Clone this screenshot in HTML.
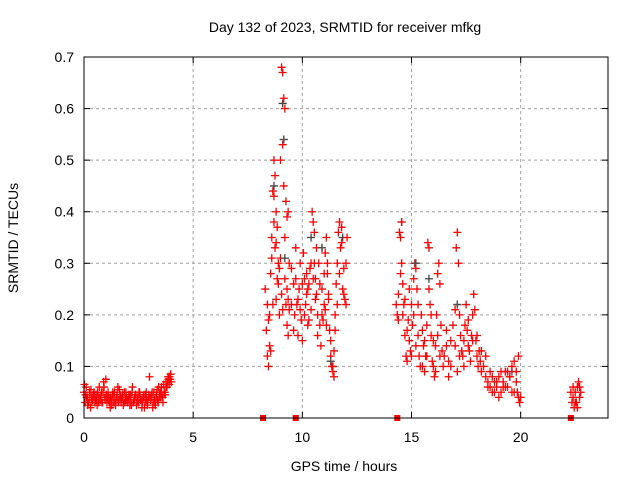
<!DOCTYPE html>
<html><head><meta charset="utf-8"><style>
body{margin:0;background:#fff;}
svg{display:block;font-family:"Liberation Sans",sans-serif;}
</style></head><body>
<svg id="chart" width="640" height="480">
<text x="345" y="32" text-anchor="middle" font-size="14">Day 132 of 2023, SRMTID for receiver mfkg</text>
<text x="344" y="471" text-anchor="middle" font-size="14">GPS time / hours</text>
<text x="18" y="238" text-anchor="middle" font-size="14" transform="rotate(-90 18 238)">SRMTID / TECUs</text>
<g id="grid"></g>
<g id="marks"></g>
<rect x="84" y="57" width="524" height="361" fill="none" stroke="#000" stroke-width="1"/>
<g id="ticks"></g>
</svg>
<script>
const xTicks=[0,5,10,15,20];
const yTicks=[0,0.1,0.2,0.3,0.4,0.5,0.6,0.7];
const yTickLabels=["0","0.1","0.2","0.3","0.4","0.5","0.6","0.7"];
const gapTimes=[8.2,9.7,14.35,22.3];
const times=[0,0.05,0.1,0.15,0.2,0.25,0.3,0.35,0.4,0.45,0.5,0.55,0.6,0.65,0.7,0.75,0.8,0.85,0.9,0.95,1,1.05,1.1,1.15,1.2,1.25,1.3,1.35,1.4,1.45,1.5,1.55,1.6,1.65,1.7,1.75,1.8,1.85,1.9,1.95,2,2.05,2.1,2.15,2.2,2.25,2.3,2.35,2.4,2.45,2.5,2.55,2.6,2.65,2.7,2.75,2.8,2.85,2.9,2.95,3,3.05,3.1,3.15,3.2,3.25,3.3,3.35,3.4,3.45,3.5,3.55,3.6,3.65,3.7,3.75,3.8,3.85,3.9,3.95,4,
0.02,0.12,0.22,0.32,0.42,0.52,0.62,0.72,0.82,0.92,1.02,1.12,1.22,1.32,1.42,1.52,1.62,1.72,1.82,1.92,2.02,2.12,2.22,2.32,2.42,2.52,2.62,2.72,2.82,2.92,3.02,3.12,3.22,3.32,3.42,3.52,3.62,3.72,3.82,3.92,
0.07,0.17,0.27,0.37,0.47,0.57,0.67,0.77,0.87,0.97,1.07,1.17,1.27,1.37,1.47,1.57,1.67,1.77,1.87,1.97,2.07,2.17,2.27,2.37,2.47,2.57,2.67,2.77,2.87,2.97,3.07,3.17,3.27,3.37,3.47,3.57,3.67,3.77,3.87,3.97,
8.3,8.35,8.4,8.45,8.5,8.55,8.6,8.65,8.7,8.75,8.8,8.85,8.9,8.95,9,9.05,9.1,9.15,9.2,9.25,9.3,9.35,8.5,8.6,8.7,8.8,8.9,9,9.1,9.15,9.2,9.25,9.3,9.35,8.55,8.65,8.75,8.85,8.95,9.05,9.1,9.2,9.3,8.4,8.45,9.4,9.35,9.4,8.7,8.8,
9.5,9.6,9.65,9.7,9.75,9.8,9.85,9.9,9.95,10,10.05,10.1,10.15,10.2,10.25,10.3,10.35,10.4,10.45,10.5,10.55,10.6,10.65,10.7,10.75,10.8,10.85,10.9,10.95,11,11.05,11.1,11.15,11.2,11.25,11.3,11.35,11.4,11.45,11.5,11.55,11.6,11.65,11.7,11.75,11.8,11.85,11.9,11.95,12,12.05,9.5,9.6,9.7,9.8,9.9,10,10.1,10.2,10.3,10.4,10.5,10.6,10.7,10.8,10.9,11,11.1,11.2,11.3,11.4,11.45,11.5,11.6,11.7,11.8,11.9,12,10.55,10.65,10.25,11.05,11.15,
14.3,14.35,14.4,14.45,14.5,14.55,14.6,14.65,14.7,14.75,14.8,14.85,14.9,14.95,15,15.05,15.1,15.15,15.2,15.25,15.3,15.35,15.4,15.45,15.5,15.55,15.6,15.65,15.7,15.75,15.8,15.85,15.9,15.95,16,16.05,16.1,16.15,16.2,16.25,16.3,16.35,16.4,16.45,14.5,14.6,14.7,14.8,14.9,15,15.1,15.2,15.3,15.5,15.6,15.7,15.8,15.9,16,16.1,16.2,16.3,14.4,14.55,
16.5,16.6,16.7,16.8,16.9,17,17.05,17.1,17.15,17.2,17.25,17.3,17.35,17.4,17.45,17.5,17.55,17.6,17.65,17.7,17.75,17.8,17.85,17.9,17.95,18,18.05,18.1,18.15,18.2,18.3,18.4,18.5,18.6,18.7,18.8,18.9,19,19.1,19.2,19.3,19.4,19.5,19.6,19.7,19.8,19.85,19.9,19.95,20,16.6,16.8,17,17.2,17.4,17.6,17.8,18,18.2,18.4,18.6,18.8,19,19.2,19.4,19.6,19.8,19.9,16.7,17.1,18.5,18.7,18.9,19.1,19.3,19.5,19.7,
22.3,22.35,22.4,22.45,22.5,22.55,22.6,22.65,22.7,22.75,22.4,22.5,22.6,22.7];
const values=[0.05,0.03,0.06,0.04,0.03,0.05,0.02,0.04,0.035,0.05,0.03,0.045,0.025,0.04,0.06,0.035,0.05,0.03,0.07,0.04,0.075,0.03,0.05,0.04,0.02,0.035,0.045,0.03,0.05,0.025,0.04,0.06,0.035,0.045,0.03,0.04,0.025,0.05,0.035,0.04,0.03,0.045,0.025,0.04,0.05,0.03,0.035,0.045,0.025,0.04,0.03,0.05,0.035,0.02,0.04,0.045,0.03,0.05,0.025,0.04,0.08,0.035,0.045,0.02,0.05,0.03,0.04,0.055,0.03,0.045,0.05,0.06,0.04,0.065,0.05,0.07,0.06,0.08,0.065,0.075,0.07,
0.065,0.04,0.03,0.055,0.045,0.035,0.05,0.04,0.03,0.06,0.045,0.035,0.04,0.05,0.03,0.045,0.055,0.04,0.03,0.05,0.035,0.045,0.06,0.04,0.03,0.05,0.035,0.04,0.045,0.03,0.04,0.05,0.035,0.045,0.06,0.04,0.03,0.045,0.07,0.08,
0.045,0.025,0.04,0.03,0.045,0.035,0.03,0.04,0.05,0.035,0.04,0.03,0.025,0.045,0.035,0.03,0.04,0.045,0.03,0.035,0.04,0.025,0.03,0.045,0.035,0.04,0.03,0.02,0.035,0.045,0.04,0.03,0.025,0.035,0.04,0.045,0.05,0.06,0.075,0.085,
0.25,0.17,0.12,0.1,0.14,0.13,0.31,0.44,0.5,0.47,0.4,0.37,0.3,0.29,0.5,0.68,0.67,0.62,0.6,0.42,0.39,0.4,0.2,0.35,0.43,0.23,0.26,0.31,0.53,0.45,0.35,0.22,0.18,0.16,0.28,0.22,0.33,0.27,0.2,0.24,0.21,0.27,0.25,0.22,0.19,0.21,0.23,0.3,0.38,0.34,
0.29,0.26,0.2,0.33,0.22,0.16,0.25,0.3,0.19,0.26,0.32,0.27,0.22,0.28,0.18,0.26,0.29,0.21,0.4,0.38,0.36,0.27,0.24,0.2,0.3,0.18,0.14,0.25,0.19,0.22,0.32,0.35,0.28,0.23,0.17,0.12,0.1,0.09,0.13,0.2,0.26,0.3,0.36,0.38,0.33,0.34,0.25,0.24,0.23,0.3,0.35,0.22,0.17,0.27,0.23,0.21,0.15,0.2,0.24,0.19,0.3,0.27,0.23,0.16,0.26,0.2,0.28,0.18,0.24,0.15,0.1,0.08,0.17,0.22,0.28,0.37,0.29,0.22,0.3,0.33,0.25,0.21,0.3,
0.22,0.2,0.19,0.36,0.35,0.3,0.26,0.22,0.16,0.12,0.11,0.19,0.15,0.13,0.22,0.18,0.27,0.3,0.29,0.25,0.16,0.12,0.1,0.2,0.17,0.14,0.09,0.12,0.18,0.34,0.33,0.22,0.16,0.11,0.1,0.08,0.14,0.2,0.28,0.3,0.26,0.18,0.13,0.1,0.28,0.2,0.23,0.17,0.25,0.12,0.2,0.14,0.22,0.1,0.15,0.12,0.25,0.2,0.15,0.09,0.16,0.12,0.24,0.38,
0.12,0.14,0.11,0.15,0.18,0.21,0.33,0.36,0.3,0.2,0.16,0.13,0.12,0.15,0.18,0.22,0.17,0.14,0.13,0.11,0.16,0.2,0.24,0.21,0.15,0.12,0.1,0.13,0.11,0.09,0.1,0.12,0.07,0.06,0.05,0.07,0.06,0.08,0.05,0.07,0.09,0.06,0.08,0.1,0.11,0.07,0.05,0.04,0.03,0.04,0.17,0.1,0.14,0.12,0.1,0.19,0.15,0.16,0.13,0.08,0.09,0.05,0.04,0.06,0.09,0.05,0.09,0.12,0.08,0.09,0.06,0.08,0.07,0.09,0.06,0.08,0.05,
0.05,0.03,0.04,0.02,0.05,0.03,0.06,0.07,0.04,0.05,0.06,0.03,0.02,0.06];
const grayTimes=[9.1,9.15,8.7,9.2,10.4,11.3,14.55,15.2,15.8,17.1,19.6,10.9,11.85];
const grayValues=[0.61,0.54,0.45,0.31,0.35,0.11,0.38,0.3,0.27,0.22,0.09,0.33,0.35];

const L=84,R=608,T=57,B=418;
const xs=t=>L+(t/24)*(R-L);
const ys=v=>B-(v/0.7)*(B-T);
const NS="http://www.w3.org/2000/svg";
const grid=document.getElementById('grid'),ticks=document.getElementById('ticks'),marks=document.getElementById('marks');
function mk(tag,attrs,parent){const e=document.createElementNS(NS,tag);for(const k in attrs)e.setAttribute(k,attrs[k]);parent.appendChild(e);return e;}
xTicks.forEach(t=>{
  const x=xs(t);
  if(t>0){const g=mk('line',{x1:x,x2:x,y1:T,y2:B,stroke:'#a0a0a0','stroke-dasharray':'3,3'},grid);
  
  }
  mk('line',{x1:x,x2:x,y1:B,y2:B-6,stroke:'#000'},ticks);
  mk('line',{x1:x,x2:x,y1:T,y2:T+6,stroke:'#000'},ticks);
  const lb=mk('text',{x:x,y:B+24,'text-anchor':'middle','font-size':'14'},ticks);lb.textContent=t;
  
  
});
yTicks.forEach((v,i)=>{
  const y=ys(v);
  if(v>0&&v<0.7){const g=mk('line',{x1:L,x2:R,y1:y,y2:y,stroke:'#a0a0a0','stroke-dasharray':'3,3'},grid);
  
  }
  mk('line',{x1:L,x2:L+6,y1:y,y2:y,stroke:'#000'},ticks);
  mk('line',{x1:R,x2:R-6,y1:y,y2:y,stroke:'#000'},ticks);
  const lb=mk('text',{x:L-10,y:y+5,'text-anchor':'end','font-size':'14'},ticks);lb.textContent=yTickLabels[i];
  
  
});
function plus(t,v,col){
  const x=xs(t),y=ys(v);
  const p=mk('path',{d:`M${x-4},${y}h8M${x},${y-4}v8`,stroke:col,'stroke-width':'1.3',fill:'none'},marks);
  
  
}
grayTimes.forEach((t,i)=>plus(t,grayValues[i],'#404040'));
times.forEach((t,i)=>plus(t,values[i],'#ff0000'));
grayTimes.forEach((t,i)=>{if(i%2)plus(t,grayValues[i],'#505050');});
gapTimes.forEach(t=>{
  const r=mk('rect',{x:xs(t)-3,y:B-3,width:6,height:6,fill:'#ff0000'},marks);
  
  
});
</script>
</body></html>
